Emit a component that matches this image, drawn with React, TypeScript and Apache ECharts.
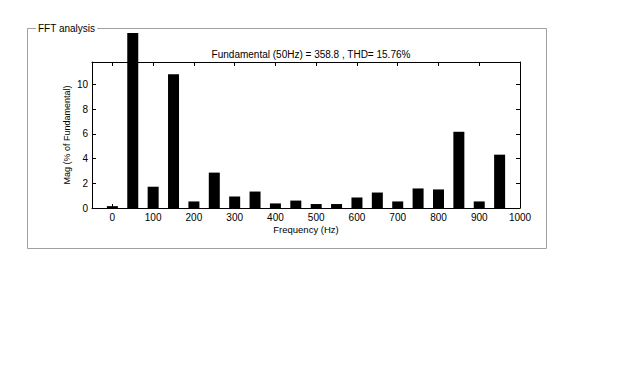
import React, { useEffect, useRef } from "react";
import * as echarts from "echarts";

const frequencies = [0, 50, 100, 150, 200, 250, 300, 350, 400, 450, 500, 550, 600, 650, 700, 750, 800, 850, 900, 950];
const magnitudes = [0.15, 100, 1.72, 10.8, 0.53, 2.86, 0.93, 1.33, 0.37, 0.6, 0.32, 0.32, 0.85, 1.25, 0.53, 1.58, 1.5, 6.16, 0.53, 4.31];
const xTicks = [0, 100, 200, 300, 400, 500, 600, 700, 800, 900, 1000];
const yTicks = [0, 2, 4, 6, 8, 10];
const chartTitle = "Fundamental (50Hz) = 358.8 , THD= 15.76%";
const panelTitle = "FFT analysis";

const FONT = "'Liberation Sans', Arial, sans-serif";

export default function App() {
  const ref = useRef<HTMLDivElement>(null);
  useEffect(() => {
    if (!ref.current) return;
    const chart = echarts.init(ref.current, undefined, { renderer: "svg" });
    const axisLine = { show: true, onZero: false, lineStyle: { color: "#000", width: 1 } };
    const fmt = (v: number) => String(v);
    chart.setOption({
      animation: false,
      backgroundColor: "#fff",
      title: {
        text: chartTitle,
        left: 306,
        top: 44,
        textAlign: "center",
        textStyle: { fontSize: 10, fontWeight: "normal", fontFamily: FONT, color: "#000" },
      },
      grid: { left: 92, top: 62, width: 428, height: 146, containLabel: false },
      xAxis: [
        {
          type: "value",
          min: -50,
          max: 1000,
          position: "bottom",
          axisLine,
          splitLine: { show: false },
          axisTick: { show: true, inside: true, length: 4, customValues: xTicks, lineStyle: { color: "#000" } },
          axisLabel: { customValues: xTicks, formatter: fmt, fontSize: 10, fontFamily: FONT, color: "#000", margin: 4 },
          name: "Frequency (Hz)",
          nameLocation: "middle",
          nameGap: 16,
          nameTextStyle: { fontSize: 9.5, fontFamily: FONT, color: "#000" },
        },
        {
          type: "value",
          min: -50,
          max: 1000,
          position: "top",
          axisLine,
          splitLine: { show: false },
          axisTick: { show: true, inside: true, length: 4, customValues: xTicks, lineStyle: { color: "#000" } },
          axisLabel: { show: false },
        },
      ],
      yAxis: [
        {
          type: "value",
          min: 0,
          max: 11.8,
          position: "left",
          axisLine,
          splitLine: { show: false },
          axisTick: { show: true, inside: true, length: 4, customValues: yTicks, lineStyle: { color: "#000" } },
          axisLabel: { customValues: yTicks, formatter: fmt, fontSize: 10, fontFamily: FONT, color: "#000", margin: 4 },
          name: "Mag (% of Fundamental)",
          nameLocation: "middle",
          nameGap: 21,
          nameMoveOverlap: false,
          nameTextStyle: { fontSize: 9, fontFamily: FONT, color: "#000" },
        },
        {
          type: "value",
          min: 0,
          max: 11.8,
          position: "right",
          axisLine,
          splitLine: { show: false },
          axisTick: { show: true, inside: true, length: 4, customValues: yTicks, lineStyle: { color: "#000" } },
          axisLabel: { show: false },
        },
      ],
      series: [
        {
          type: "bar",
          xAxisIndex: 0,
          yAxisIndex: 0,
          clip: false,
          barWidth: 11,
          itemStyle: { color: "#000" },
          data: frequencies.map((f, i) => [f, magnitudes[i]]),
        },
      ],
      graphic: [
        { type: "rect", z: 100, shape: { x: 0, y: 0, width: 640, height: 33 }, style: { fill: "#fff" } },
        {
          type: "rect",
          z: 101,
          shape: { x: 27.5, y: 28.5, width: 519, height: 220 },
          style: { fill: "none", stroke: "#a0a0a0", lineWidth: 1 },
        },
        {
          type: "text",
          z: 102,
          x: 36,
          y: 28,
          style: {
            text: panelTitle,
            fontSize: 10,
            fontFamily: FONT,
            fill: "#000",
            verticalAlign: "middle",
            backgroundColor: "#fff",
            padding: [0, 2],
          },
        },
      ],
    });
    return () => chart.dispose();
  }, []);
  return <div ref={ref} style={{ position: "fixed", left: 0, top: 0, width: 640, height: 380 }} />;
}
